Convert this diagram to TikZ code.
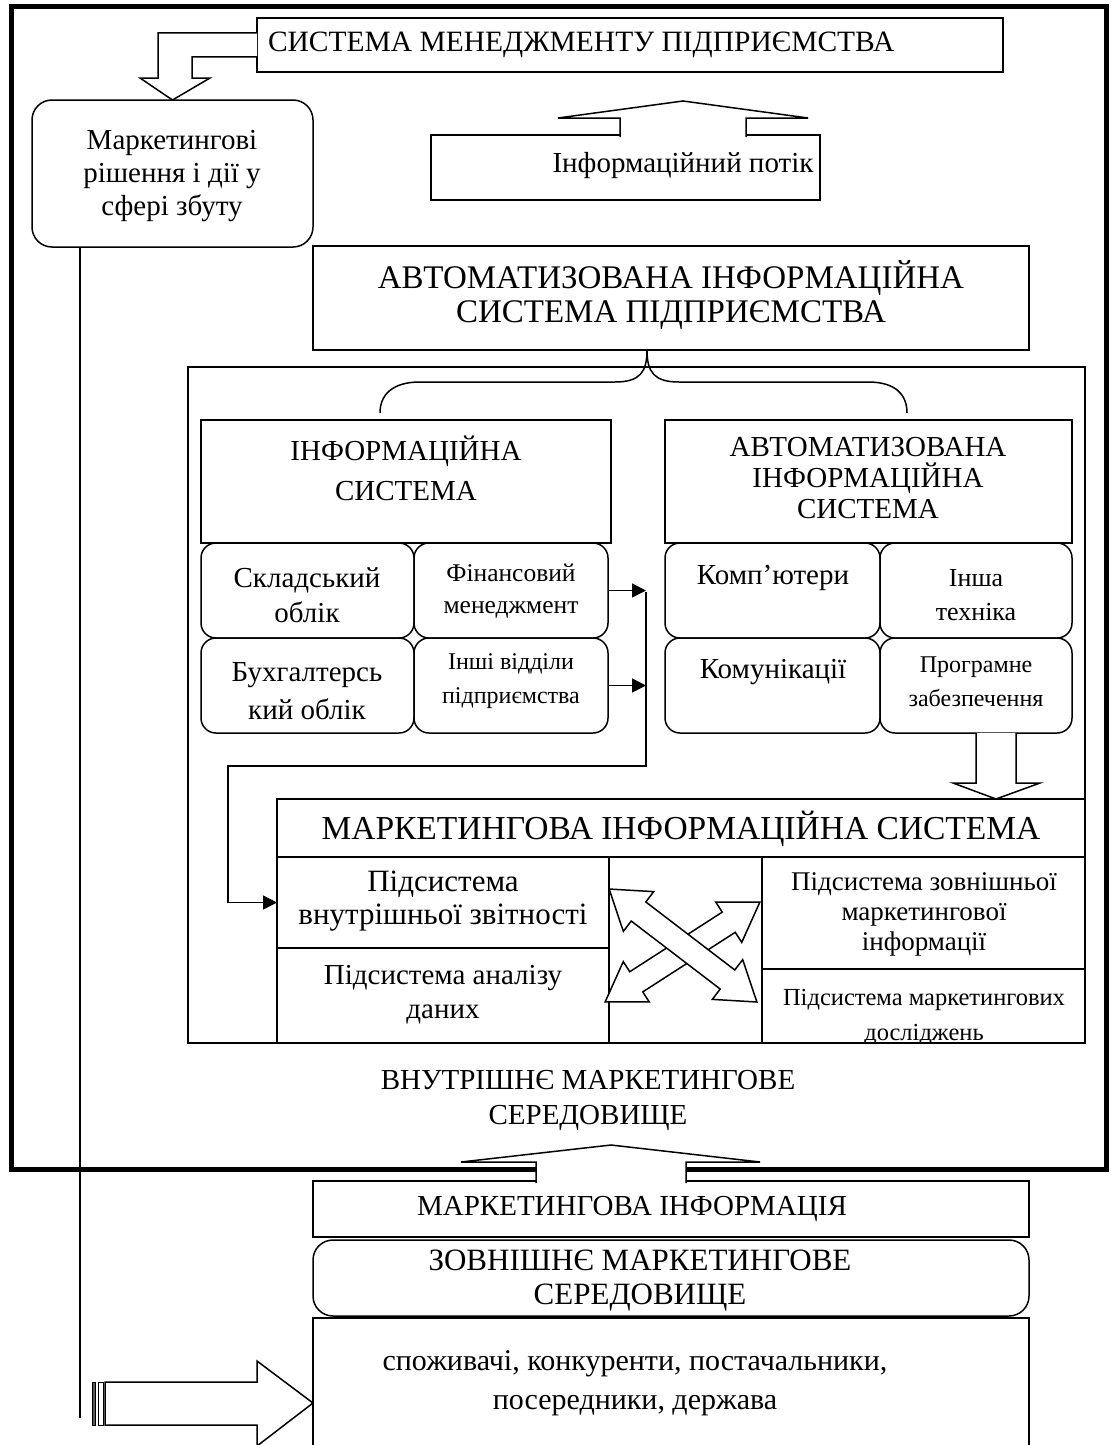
\documentclass[tikz,border=0pt]{standalone}
\usepackage{fontspec}
\setmainfont{Liberation Serif}
\usetikzlibrary{arrows.meta}
\begin{document}
\begin{tikzpicture}[x=1pt,y=-1pt,
  every node/.style={inner sep=0pt, outer sep=0pt},
  frame/.style={draw, line width=1.5pt, anchor=north west},
  rframe/.style={frame, rounded corners=15pt},
  txt/.style={align=center, font=\fontsize{29}{#1}\selectfont},
  stxt/.style 2 args={align=center, font=\fontsize{#1}{#2}\selectfont},
  ln/.style={line width=1.5pt},
  tipa/.style={-{Triangle[length=14pt,width=14pt]}},
  blk/.style={draw, line width=1.5pt, fill=white, line join=miter},
]
\clip (0,0) rectangle (1112,1445);
\fill[white] (0,0) rectangle (1112,1445);

% outer thick frame
\node[draw, line width=5pt, anchor=north west, minimum width=1095pt, minimum height=1162pt] (outer) at (11,7) {};

% top boxes
\node[frame, minimum width=746pt, minimum height=54pt] (sm) at (257,18) {};
\node[stxt={29.5}{32}, anchor=west] (smt) at (268,45) {СИСТЕМА МЕНЕДЖМЕНТУ ПІДПРИЄМСТВА};

\node[rframe, rounded corners=20pt, minimum width=281pt, minimum height=147pt] (mk) at (32,100) {};
\node[txt=33] (mkt) at (172,176) {Маркетингові\\рішення і дії у\\сфері збуту};

\node[frame, minimum width=389pt, minimum height=65pt] (ip) at (431,135) {};
\node[txt=32] (ipt) at (683,166) {Інформаційний потік};

\node[frame, minimum width=716pt, minimum height=104pt] (ais) at (313,246) {};
\node[stxt={33}{34}] (aist) at (671,295) {АВТОМАТИЗОВАНА ІНФОРМАЦІЙНА\\СИСТЕМА ПІДПРИЄМСТВА};

% inner frame
\node[frame, minimum width=897pt, minimum height=676pt] (inner) at (188,367) {};

% brace
\coordinate (brtop) at (647,350);
\draw[ln] (brtop) .. controls (647,372) and (640,382) .. (615,382) -- (420,382)
  .. controls (392,382) and (380,395) .. (380,413);
\draw[ln] (brtop) .. controls (647,372) and (654,382) .. (679,382) -- (868,382)
  .. controls (896,382) and (907,395) .. (907,413);

% information system
\node[frame, minimum width=410pt, minimum height=123pt] (is) at (201,420) {};
\node[txt=40] (ist) at (406,468) {ІНФОРМАЦІЙНА\\СИСТЕМА};
\node[frame, minimum width=407pt, minimum height=123pt] (ais2) at (665,420) {};
\node[txt=31] (ais2t) at (868,478) {АВТОМАТИЗОВАНА\\ІНФОРМАЦІЙНА\\СИСТЕМА};

\node[rframe, minimum width=213pt, minimum height=95pt] (skl) at (201,543) {};
\node[txt=35] (sklt) at (307,595) {Складський\\облік};
\node[rframe, minimum width=194pt, minimum height=95pt] (fin) at (414,543) {};
\node[stxt={25.5}{32}] (fint) at (511,591) {Фінансовий\\менеджмент};
\node[rframe, minimum width=213pt, minimum height=95pt] (buh) at (201,638) {};
\node[txt=38] (buht) at (307,691) {Бухгалтерсь\\кий облік};
\node[rframe, minimum width=194pt, minimum height=95pt] (insh) at (414,638) {};
\node[stxt={24}{34}] (insht) at (511,681) {Інші відділи\\підприємства};

\node[rframe, minimum width=215pt, minimum height=95pt] (komp) at (665,543) {};
\node[txt=32] (kompt) at (773,578) {Комп’ютери};
\node[rframe, minimum width=192pt, minimum height=95pt] (tech) at (880,543) {};
\node[stxt={26}{34}] (techt) at (976,595) {Інша\\техніка};
\node[rframe, minimum width=215pt, minimum height=95pt] (komun) at (665,638) {};
\node[txt=32] (komunt) at (773,672) {Комунікації};
\node[rframe, minimum width=192pt, minimum height=95pt] (prog) at (880,638) {};
\node[stxt={24}{34}] (progt) at (976,682) {Програмне\\забезпечення};

% marketing information system
\node[frame, minimum width=808pt, minimum height=58pt] (mis) at (277,799) {};
\node[stxt={33.5}{34}] (mist) at (681,829) {МАРКЕТИНГОВА ІНФОРМАЦІЙНА СИСТЕМА};
\node[frame, minimum width=332pt, minimum height=91pt] (vnz) at (277,857) {};
\node[stxt={31}{33}] (vnzt) at (443,901) {Підсистема\\внутрішньої звітності};
\node[frame, minimum width=332pt, minimum height=95pt] (an) at (277,948) {};
\node[txt=34] (ant) at (443,995) {Підсистема аналізу\\даних};
\node[frame, minimum width=153pt, minimum height=186pt] (midc) at (609,857) {};
\node[frame, minimum width=323pt, minimum height=112pt] (zovn) at (762,857) {};
\node[stxt={27}{30}] (zovnt) at (924,914) {Підсистема зовнішньої\\маркетингової\\інформації};
\node[frame, minimum width=323pt, minimum height=74pt] (dosl) at (762,969) {};
\begin{scope}
  \clip (762,969) rectangle (1085,1042);
  \node[stxt={24.5}{35}, anchor=north] (doslt) at (924,989) {Підсистема маркетингових\\досліджень};
\end{scope}

% crossing double arrows
\begin{scope}[shift={(682.5,952)}, rotate=32.8]
  \draw[blk] (-92,0) -- (-55,-24) -- (-55,-12) -- (55,-12) -- (55,-24) -- (92,0)
    -- (55,24) -- (55,12) -- (-55,12) -- (-55,24) -- cycle;
\end{scope}
\begin{scope}[shift={(683,945.5)}, rotate=-37.4]
  \draw[blk] (-93,0) -- (-56,-25) -- (-56,-12) -- (56,-12) -- (56,-25) -- (93,0)
    -- (56,25) -- (56,12) -- (-56,12) -- (-56,25) -- cycle;
\end{scope}

% connectors from information system
\coordinate (bustop) at (646,592);
\coordinate (busbot) at (646,766);
\coordinate (busl) at (228,766);
\draw[ln, tipa] (fin.east) -- (fin.east -| bustop);
\draw[ln, tipa] (insh.east) -- (insh.east -| bustop);
\draw[ln, tipa] (bustop) -- (busbot) -- (busl) |- (vnz.west);

% block arrow from software to MIS
\draw[blk] (976,733) -- (976,783) -- (953,783) -- (996,799) -- (1040,783) -- (1016,783) -- (1016,733);

% top-left bent block arrow
\draw[blk] (sm.west |- 0,33) -- (158,33) -- (158,78) -- (140,78) -- (mk.north) -- (210,78)
  -- (192,78) -- (192,57) -- (sm.west |- 0,57);

% information flow arrow
\draw[blk] (620,137) -- (620,118) -- (558,118) -- (683,101) -- (808,118) -- (746,118) -- (746,137);

\node[txt=35] (vmst) at (588,1100) {ВНУТРІШНЄ МАРКЕТИНГОВЕ\\СЕРЕДОВИЩЕ};

% bottom boxes
\node[frame, minimum width=716pt, minimum height=56pt] (mi) at (313,1181) {};
\node[txt=32] (mit) at (632,1209) {МАРКЕТИНГОВА ІНФОРМАЦІЯ};
\node[rframe, rounded corners=20pt, minimum width=716pt, minimum height=76pt] (zms) at (313,1240) {};
\node[stxt={31}{34}] (zmst) at (640,1281) {ЗОВНІШНЄ МАРКЕТИНГОВЕ\\СЕРЕДОВИЩЕ};
\node[frame, minimum width=716pt, minimum height=160pt] (sp) at (313,1318) {};
\node[stxt={30}{39}] (spt) at (635,1383) {споживачі, конкуренти, постачальники,\\посередники, держава};

% marketing information up arrow
\draw[blk] (536,1183) -- (536,1162) -- (461,1162) -- (611,1145) -- (760,1162) -- (686,1162) -- (686,1183);

% left vertical line
\draw[ln] (mk.south -| 80,0) -- (80,1418);

% bottom big arrow
\draw[line width=1pt, fill=black!65] (92,1382) rectangle (95,1425);
\draw[line width=1pt, fill=white] (98,1382) rectangle (103,1425);
\draw[blk] (105,1382) -- (257,1382) -- (257,1361) -- (313,1403) -- (257,1446) -- (257,1425) -- (105,1425) -- cycle;
\end{tikzpicture}
\end{document}
